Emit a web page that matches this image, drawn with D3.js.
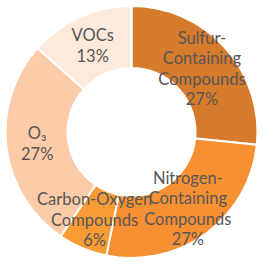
<!DOCTYPE html>
<html>
<head>
<meta charset="utf-8">
<script src="https://cdn.jsdelivr.net/npm/d3@7"></script>
<style>
  html, body { margin: 0; padding: 0; background: #ffffff; }
  svg text { font-family: Lato, "Liberation Sans", Arial, sans-serif; font-size: 16.5px; fill: #575757; }
</style>
</head>
<body>
<svg id="donut_svg" width="263" height="266"></svg>
<script>
// slice names (one entry per text line), shares in percent, fill colours
var categories = [
  ["Sulfur-", "Containing", "Compounds"],
  ["Nitrogen-", "Containing", "Compounds"],
  ["Carbon-Oxygen", "Compounds"],
  ["O\u2083"],
  ["VOCs"]
];
var values = [26.6, 26.6, 6.3, 27.1, 13.4];
var colors = ["#d67b2c", "#f78f33", "#f99c35", "#fccba8", "#fdeadb"];

(function () {
    var svg = d3.select("svg#donut_svg"),
        cx = 131.5, cy = 132,
        outer = 126, inner = 64,
        lineH = 20.5;

    var g = svg.append("g").attr("transform", "translate(" + cx + "," + cy + ")");

    var pie = d3.pie().sort(null).value(d => d);
    var arcs = pie(values);
    var arc = d3.arc().innerRadius(inner).outerRadius(outer);
    var mid = d3.arc().innerRadius((inner + outer) / 2).outerRadius((inner + outer) / 2);

    g.selectAll("path.slice").data(arcs).enter().append("path")
        .attr("class", "slice")
        .attr("d", arc)
        .attr("fill", (d, i) => colors[i])
        .attr("stroke", "#ffffff")
        .attr("stroke-width", 2);

    // data labels: name lines plus rounded percentage, centred on the ring
    g.selectAll("text.lbl").data(arcs).enter().append("text")
        .attr("class", "lbl")
        .attr("text-anchor", "middle")
        .each(function (d, i) {
            var lines = categories[i].concat([Math.round(d.data) + "%"]);
            var c = mid.centroid(d);
            var y0 = c[1] - (lines.length - 1) * lineH / 2 + 6;
            var t = d3.select(this);
            lines.forEach(function (s, k) {
                t.append("tspan").attr("x", c[0]).attr("y", y0 + k * lineH).text(s);
            });
        });
})();
</script>
</body>
</html>
